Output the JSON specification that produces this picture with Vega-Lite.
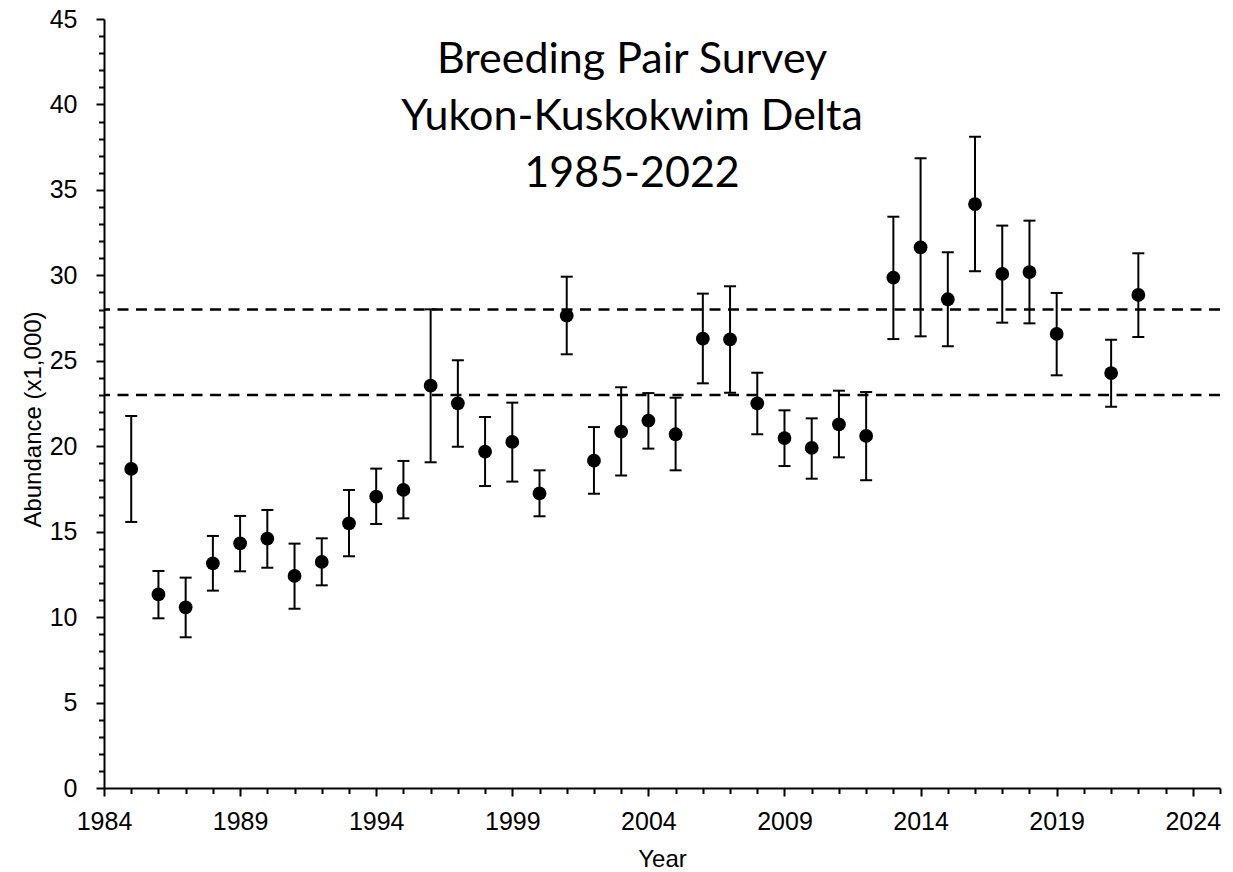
{
  "$schema": "https://vega.github.io/schema/vega-lite/v6.json",
  "width": 1116,
  "height": 769,
  "autosize": {"type": "none"},
  "padding": {"left": 104, "top": 19, "right": 13, "bottom": 84},
  "background": "white",
  "config": {
    "view": {"stroke": null},
    "font": "Liberation Sans"
  },
  "datasets": {
    "survey": [
      {"year": 1985, "abundance": 18.67, "lo": 15.57, "hi": 21.77},
      {"year": 1986, "abundance": 11.33, "lo": 9.93, "hi": 12.70},
      {"year": 1987, "abundance": 10.57, "lo": 8.82, "hi": 12.31},
      {"year": 1988, "abundance": 13.15, "lo": 11.55, "hi": 14.75},
      {"year": 1989, "abundance": 14.32, "lo": 12.68, "hi": 15.92},
      {"year": 1990, "abundance": 14.59, "lo": 12.89, "hi": 16.27},
      {"year": 1991, "abundance": 12.41, "lo": 10.49, "hi": 14.30},
      {"year": 1992, "abundance": 13.23, "lo": 11.86, "hi": 14.61},
      {"year": 1993, "abundance": 15.49, "lo": 13.56, "hi": 17.44},
      {"year": 1994, "abundance": 17.05, "lo": 15.45, "hi": 18.69},
      {"year": 1995, "abundance": 17.44, "lo": 15.78, "hi": 19.14},
      {"year": 1996, "abundance": 23.54, "lo": 19.06, "hi": 28.01},
      {"year": 1997, "abundance": 22.51, "lo": 19.97, "hi": 25.03},
      {"year": 1998, "abundance": 19.68, "lo": 17.67, "hi": 21.71},
      {"year": 1999, "abundance": 20.25, "lo": 17.93, "hi": 22.55},
      {"year": 2000, "abundance": 17.24, "lo": 15.90, "hi": 18.59},
      {"year": 2001, "abundance": 27.64, "lo": 25.38, "hi": 29.92},
      {"year": 2002, "abundance": 19.15, "lo": 17.22, "hi": 21.12},
      {"year": 2003, "abundance": 20.85, "lo": 18.29, "hi": 23.45},
      {"year": 2004, "abundance": 21.50, "lo": 19.86, "hi": 23.11},
      {"year": 2005, "abundance": 20.70, "lo": 18.59, "hi": 22.84},
      {"year": 2006, "abundance": 26.29, "lo": 23.68, "hi": 28.93},
      {"year": 2007, "abundance": 26.25, "lo": 23.13, "hi": 29.36},
      {"year": 2008, "abundance": 22.51, "lo": 20.70, "hi": 24.30},
      {"year": 2009, "abundance": 20.48, "lo": 18.84, "hi": 22.10},
      {"year": 2010, "abundance": 19.90, "lo": 18.10, "hi": 21.63},
      {"year": 2011, "abundance": 21.28, "lo": 19.35, "hi": 23.25},
      {"year": 2012, "abundance": 20.60, "lo": 18.01, "hi": 23.17},
      {"year": 2013, "abundance": 29.87, "lo": 26.27, "hi": 33.43},
      {"year": 2014, "abundance": 31.64, "lo": 26.43, "hi": 36.85},
      {"year": 2015, "abundance": 28.60, "lo": 25.85, "hi": 31.35},
      {"year": 2016, "abundance": 34.17, "lo": 30.24, "hi": 38.11},
      {"year": 2017, "abundance": 30.08, "lo": 27.23, "hi": 32.91},
      {"year": 2018, "abundance": 30.19, "lo": 27.19, "hi": 33.20},
      {"year": 2019, "abundance": 26.57, "lo": 24.15, "hi": 28.97},
      {"year": 2021, "abundance": 24.28, "lo": 22.31, "hi": 26.23},
      {"year": 2022, "abundance": 28.85, "lo": 26.39, "hi": 31.29}
    ],
    "refs": [
      {"level": 23},
      {"level": 28}
    ],
    "heading": [
      {"line1": "Breeding Pair Survey"}
    ]
  },
  "layer": [
    {
      "data": {"name": "refs"},
      "mark": {"type": "rule", "color": "black", "strokeWidth": 2.5, "strokeDash": [11, 7.5]},
      "encoding": {
        "y": {
          "field": "level", "type": "quantitative", "title": "Abundance (x1,000)",
          "scale": {"domain": [0, 45], "nice": false},
          "axis": {
            "tickCount": 45,
            "labelExpr": "datum.value % 5 === 0 ? '' + datum.value : ''",
            "labelFont": "Liberation Sans", "labelFontSize": 25, "labelColor": "black",
            "labelOverlap": false, "labelFlush": false, "labelPadding": 19,
            "tickColor": "black", "tickWidth": 2,
            "tickSize": {"condition": {"test": "datum.value % 5 === 0", "value": 8}, "value": 5.5},
            "domainColor": "black", "domainWidth": 2, "grid": false,
            "titleFont": "Liberation Sans", "titleFontSize": 24, "titleFontWeight": "normal", "titleColor": "black",
            "titleAngle": -90, "titleBaseline": "alphabetic", "titleAlign": "center",
            "titleX": -64, "titleY": 400
          }
        }
      }
    },
    {
      "data": {"name": "survey"},
      "mark": {"type": "rule", "color": "black", "strokeWidth": 2},
      "encoding": {
        "x": {
          "field": "year", "type": "quantitative", "title": "Year",
          "scale": {"domain": [1984, 2025], "nice": false, "zero": false},
          "axis": {
            "tickCount": 41,
            "labelExpr": "(datum.value - 1984) % 5 === 0 ? '' + datum.value : ''",
            "labelFont": "Liberation Sans", "labelFontSize": 25, "labelColor": "black",
            "labelOverlap": false, "labelFlush": false, "labelPadding": 13,
            "tickColor": "black", "tickWidth": 2,
            "tickSize": {"condition": {"test": "(datum.value - 1984) % 5 === 0", "value": 8}, "value": 5.5},
            "domainColor": "black", "domainWidth": 2, "grid": false,
            "titleFont": "Liberation Sans", "titleFontSize": 24, "titleFontWeight": "normal", "titleColor": "black",
            "titleBaseline": "alphabetic", "titleY": 78
          }
        },
        "y": {
          "field": "lo", "type": "quantitative", "title": "Abundance (x1,000)",
          "scale": {"domain": [0, 45], "nice": false},
          "axis": {
            "tickCount": 45,
            "labelExpr": "datum.value % 5 === 0 ? '' + datum.value : ''",
            "labelFont": "Liberation Sans", "labelFontSize": 25, "labelColor": "black",
            "labelOverlap": false, "labelFlush": false, "labelPadding": 19,
            "tickColor": "black", "tickWidth": 2,
            "tickSize": {"condition": {"test": "datum.value % 5 === 0", "value": 8}, "value": 5.5},
            "domainColor": "black", "domainWidth": 2, "grid": false,
            "titleFont": "Liberation Sans", "titleFontSize": 24, "titleFontWeight": "normal", "titleColor": "black",
            "titleAngle": -90, "titleBaseline": "alphabetic", "titleAlign": "center",
            "titleX": -64, "titleY": 400
          }
        },
        "y2": {"field": "hi"}
      }
    },
    {
      "data": {"name": "survey"},
      "mark": {"type": "tick", "orient": "horizontal", "color": "black", "opacity": 1, "size": 12, "thickness": 2},
      "encoding": {
        "x": {"field": "year", "type": "quantitative", "title": "Year",
          "scale": {"domain": [1984, 2025], "nice": false, "zero": false},
          "axis": {
            "tickCount": 41,
            "labelExpr": "(datum.value - 1984) % 5 === 0 ? '' + datum.value : ''",
            "labelFont": "Liberation Sans", "labelFontSize": 25, "labelColor": "black",
            "labelOverlap": false, "labelFlush": false, "labelPadding": 13,
            "tickColor": "black", "tickWidth": 2,
            "tickSize": {"condition": {"test": "(datum.value - 1984) % 5 === 0", "value": 8}, "value": 5.5},
            "domainColor": "black", "domainWidth": 2, "grid": false,
            "titleFont": "Liberation Sans", "titleFontSize": 24, "titleFontWeight": "normal", "titleColor": "black",
            "titleBaseline": "alphabetic", "titleY": 78
          }
        },
        "y": {"field": "lo", "type": "quantitative", "title": "Abundance (x1,000)",
          "scale": {"domain": [0, 45], "nice": false},
          "axis": {
            "tickCount": 45,
            "labelExpr": "datum.value % 5 === 0 ? '' + datum.value : ''",
            "labelFont": "Liberation Sans", "labelFontSize": 25, "labelColor": "black",
            "labelOverlap": false, "labelFlush": false, "labelPadding": 19,
            "tickColor": "black", "tickWidth": 2,
            "tickSize": {"condition": {"test": "datum.value % 5 === 0", "value": 8}, "value": 5.5},
            "domainColor": "black", "domainWidth": 2, "grid": false,
            "titleFont": "Liberation Sans", "titleFontSize": 24, "titleFontWeight": "normal", "titleColor": "black",
            "titleAngle": -90, "titleBaseline": "alphabetic", "titleAlign": "center",
            "titleX": -64, "titleY": 400
          }
        }
      }
    },
    {
      "data": {"name": "survey"},
      "mark": {"type": "tick", "orient": "horizontal", "color": "black", "opacity": 1, "size": 12, "thickness": 2},
      "encoding": {
        "x": {"field": "year", "type": "quantitative", "title": "Year",
          "scale": {"domain": [1984, 2025], "nice": false, "zero": false},
          "axis": {
            "tickCount": 41,
            "labelExpr": "(datum.value - 1984) % 5 === 0 ? '' + datum.value : ''",
            "labelFont": "Liberation Sans", "labelFontSize": 25, "labelColor": "black",
            "labelOverlap": false, "labelFlush": false, "labelPadding": 13,
            "tickColor": "black", "tickWidth": 2,
            "tickSize": {"condition": {"test": "(datum.value - 1984) % 5 === 0", "value": 8}, "value": 5.5},
            "domainColor": "black", "domainWidth": 2, "grid": false,
            "titleFont": "Liberation Sans", "titleFontSize": 24, "titleFontWeight": "normal", "titleColor": "black",
            "titleBaseline": "alphabetic", "titleY": 78
          }
        },
        "y": {"field": "hi", "type": "quantitative", "title": "Abundance (x1,000)",
          "scale": {"domain": [0, 45], "nice": false},
          "axis": {
            "tickCount": 45,
            "labelExpr": "datum.value % 5 === 0 ? '' + datum.value : ''",
            "labelFont": "Liberation Sans", "labelFontSize": 25, "labelColor": "black",
            "labelOverlap": false, "labelFlush": false, "labelPadding": 19,
            "tickColor": "black", "tickWidth": 2,
            "tickSize": {"condition": {"test": "datum.value % 5 === 0", "value": 8}, "value": 5.5},
            "domainColor": "black", "domainWidth": 2, "grid": false,
            "titleFont": "Liberation Sans", "titleFontSize": 24, "titleFontWeight": "normal", "titleColor": "black",
            "titleAngle": -90, "titleBaseline": "alphabetic", "titleAlign": "center",
            "titleX": -64, "titleY": 400
          }
        }
      }
    },
    {
      "data": {"name": "survey"},
      "mark": {"type": "point", "filled": true, "shape": "circle", "color": "black", "opacity": 1, "size": 190},
      "encoding": {
        "x": {"field": "year", "type": "quantitative", "title": "Year",
          "scale": {"domain": [1984, 2025], "nice": false, "zero": false},
          "axis": {
            "tickCount": 41,
            "labelExpr": "(datum.value - 1984) % 5 === 0 ? '' + datum.value : ''",
            "labelFont": "Liberation Sans", "labelFontSize": 25, "labelColor": "black",
            "labelOverlap": false, "labelFlush": false, "labelPadding": 13,
            "tickColor": "black", "tickWidth": 2,
            "tickSize": {"condition": {"test": "(datum.value - 1984) % 5 === 0", "value": 8}, "value": 5.5},
            "domainColor": "black", "domainWidth": 2, "grid": false,
            "titleFont": "Liberation Sans", "titleFontSize": 24, "titleFontWeight": "normal", "titleColor": "black",
            "titleBaseline": "alphabetic", "titleY": 78
          }
        },
        "y": {"field": "abundance", "type": "quantitative", "title": "Abundance (x1,000)",
          "scale": {"domain": [0, 45], "nice": false},
          "axis": {
            "tickCount": 45,
            "labelExpr": "datum.value % 5 === 0 ? '' + datum.value : ''",
            "labelFont": "Liberation Sans", "labelFontSize": 25, "labelColor": "black",
            "labelOverlap": false, "labelFlush": false, "labelPadding": 19,
            "tickColor": "black", "tickWidth": 2,
            "tickSize": {"condition": {"test": "datum.value % 5 === 0", "value": 8}, "value": 5.5},
            "domainColor": "black", "domainWidth": 2, "grid": false,
            "titleFont": "Liberation Sans", "titleFontSize": 24, "titleFontWeight": "normal", "titleColor": "black",
            "titleAngle": -90, "titleBaseline": "alphabetic", "titleAlign": "center",
            "titleX": -64, "titleY": 400
          }
        }
      }
    },
    {
      "data": {"name": "heading"},
      "mark": {"type": "text", "font": "Lato", "fontSize": 43, "color": "black", "align": "center", "baseline": "alphabetic", "lineHeight": 57},
      "encoding": {
        "x": {"datum": 2003.4, "type": "quantitative"},
        "y": {"datum": 41.84, "type": "quantitative"},
        "text": {"value": ["Breeding Pair Survey", "Yukon-Kuskokwim Delta", "1985-2022"]}
      }
    }
  ]
}
